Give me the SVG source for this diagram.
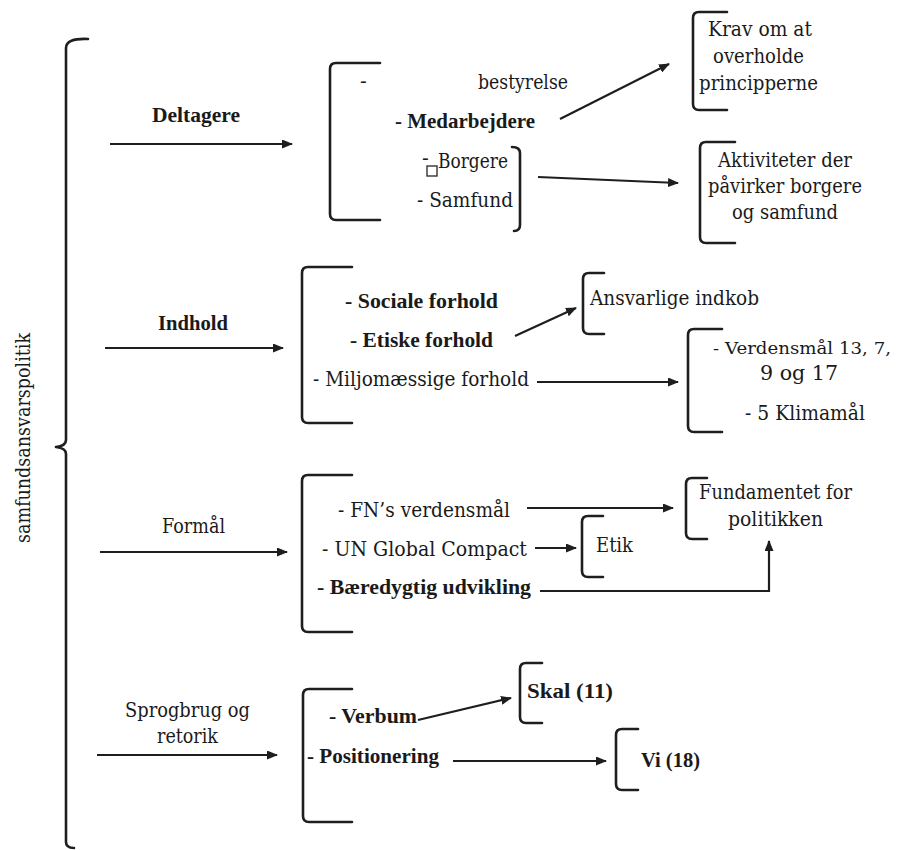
<svg xmlns="http://www.w3.org/2000/svg" width="898" height="850" viewBox="0 0 898 850">
<style>
text{font-family:"DejaVu Serif","Liberation Serif",serif;font-size:20px;fill:#1a1a1a}
.b{font-family:"Liberation Serif","DejaVu Serif",serif;font-size:21px;font-weight:700}
.br{fill:none;stroke:#1e1e1e;stroke-width:2.6;stroke-linecap:round;stroke-linejoin:round}
.ar{fill:none;stroke:#1e1e1e;stroke-width:2.2;marker-end:url(#ah)}
</style>
<defs>
<marker id="ah" markerUnits="userSpaceOnUse" markerWidth="11" markerHeight="9" refX="10" refY="4.5" orient="auto">
<path d="M0,0 L11,4.5 L0,9 z" fill="#1e1e1e"/>
</marker>
</defs>
<rect width="898" height="850" fill="#fff"/>

<g id="root">
<path class="br" d="M88 39 Q66 38 66 48 L66 440 Q66 446 56 447 Q66 448 66 454 L66 842 Q66 848 74 848"/>
<text transform="translate(30,543) rotate(-90)" textLength="210" lengthAdjust="spacingAndGlyphs">samfundsansvarspolitik</text>
</g>

<g id="connectors">
<path class="ar" d="M110 144 L292 144"/>
<path class="ar" d="M105 348 L283 348"/>
<path class="ar" d="M100 552 L287 552"/>
<path class="ar" d="M97 755 L277 755"/>
<path class="ar" d="M560 119 L669 64"/>
<path class="ar" d="M538 177 L678 183"/>
<path class="ar" d="M515 336 L576 308"/>
<path class="ar" d="M537 382 L678 382"/>
<path class="ar" d="M527 508 L673 508"/>
<path class="ar" d="M535 548 L576 548"/>
<path class="ar" d="M540 591 L769 591 L769 541"/>
<path class="ar" d="M418 720 L511 698"/>
<path class="ar" d="M453 761 L606 761"/>
</g>

<g id="lbl-deltagere"><text class="b" x="152" y="122" textLength="88" lengthAdjust="spacingAndGlyphs">Deltagere</text></g>
<g id="lbl-indhold"><text class="b" x="158" y="330" textLength="70" lengthAdjust="spacingAndGlyphs">Indhold</text></g>
<g id="lbl-formaal"><text x="162" y="533" textLength="63" lengthAdjust="spacingAndGlyphs">Formål</text></g>
<g id="lbl-sprogbrug">
<text x="125" y="717" textLength="125" lengthAdjust="spacingAndGlyphs">Sprogbrug og</text>
<text x="157" y="743" textLength="61" lengthAdjust="spacingAndGlyphs">retorik</text>
</g>

<g id="deltagere-list">
<path class="br" d="M380 63 L336 63 Q330 63 330 69 L330 214 Q330 220 336 220 L380 220"/>
<text x="360" y="88">-</text>
<text x="478" y="89" textLength="90" lengthAdjust="spacingAndGlyphs">bestyrelse</text>
<text class="b" x="395" y="128" textLength="140" lengthAdjust="spacingAndGlyphs">- Medarbejdere</text>
<text x="422" y="165">-</text>
<rect x="427" y="166" width="10" height="10" fill="none" stroke="#333" stroke-width="1.4"/>
<text x="438" y="168" textLength="70" lengthAdjust="spacingAndGlyphs">Borgere</text>
<text x="417" y="207" textLength="96" lengthAdjust="spacingAndGlyphs">- Samfund</text>
<path class="br" d="M512 147 Q520 147 520 153 L520 225 Q520 231 514 231"/>
</g>

<g id="krav">
<path class="br" d="M727 12 L699 12 Q693 12 693 18 L693 104 Q693 110 699 110 L727 110"/>
<text x="708" y="36" textLength="104" lengthAdjust="spacingAndGlyphs">Krav om at</text>
<text x="713" y="63" textLength="91" lengthAdjust="spacingAndGlyphs">overholde</text>
<text x="699" y="90" textLength="119" lengthAdjust="spacingAndGlyphs">principperne</text>
</g>

<g id="aktiviteter">
<path class="br" d="M735 142 L706 142 Q700 142 700 148 L700 237 Q700 243 706 243 L735 243"/>
<text x="718" y="167" textLength="134" lengthAdjust="spacingAndGlyphs">Aktiviteter der</text>
<text x="708" y="193" textLength="154" lengthAdjust="spacingAndGlyphs">påvirker borgere</text>
<text x="732" y="219" textLength="106" lengthAdjust="spacingAndGlyphs">og samfund</text>
</g>

<g id="indhold-list">
<path class="br" d="M352 267 L308 267 Q302 267 302 273 L302 417 Q302 423 308 423 L352 423"/>
<text class="b" x="345" y="308" textLength="153" lengthAdjust="spacingAndGlyphs">- Sociale forhold</text>
<text class="b" x="350" y="347" textLength="143" lengthAdjust="spacingAndGlyphs">- Etiske forhold</text>
<text x="313" y="386" textLength="216" lengthAdjust="spacingAndGlyphs">- Miljomæssige forhold</text>
</g>

<g id="ansvarlige">
<path class="br" d="M604 273 L589 273 Q583 273 583 279 L583 328 Q583 334 589 334 L604 334"/>
<text x="590" y="305" textLength="169" lengthAdjust="spacingAndGlyphs">Ansvarlige indkob</text>
</g>

<g id="verdensmaal">
<path class="br" d="M722 329 L694 329 Q688 329 688 335 L688 426 Q688 432 694 432 L722 432"/>
<text x="713" y="354" style="font-size:17.5px" textLength="178" lengthAdjust="spacingAndGlyphs">- Verdensmål 13, 7,</text>
<text x="760" y="380" textLength="78" lengthAdjust="spacingAndGlyphs">9 og 17</text>
<text x="745" y="420" textLength="120" lengthAdjust="spacingAndGlyphs">- 5 Klimamål</text>
</g>

<g id="formaal-list">
<path class="br" d="M352 475 L308 475 Q302 475 302 481 L302 626 Q302 632 308 632 L352 632"/>
<text x="338" y="517" textLength="172" lengthAdjust="spacingAndGlyphs">- FN’s verdensmål</text>
<text x="322" y="556" textLength="205" lengthAdjust="spacingAndGlyphs">- UN Global Compact</text>
<text class="b" x="317" y="594" textLength="214" lengthAdjust="spacingAndGlyphs">- Bæredygtig udvikling</text>
</g>

<g id="etik">
<path class="br" d="M603 516 L588 516 Q582 516 582 522 L582 571 Q582 577 588 577 L603 577"/>
<text x="596" y="552" textLength="37" lengthAdjust="spacingAndGlyphs">Etik</text>
</g>

<g id="fundamentet">
<path class="br" d="M707 478 L692 478 Q686 478 686 484 L686 533 Q686 539 692 539 L707 539"/>
<text x="699" y="499" textLength="153" lengthAdjust="spacingAndGlyphs">Fundamentet for</text>
<text x="728" y="526" textLength="95" lengthAdjust="spacingAndGlyphs">politikken</text>
</g>

<g id="sprogbrug-list">
<path class="br" d="M352 689 L309 689 Q303 689 303 695 L303 816 Q303 822 309 822 L352 822"/>
<text class="b" x="329" y="723" textLength="88" lengthAdjust="spacingAndGlyphs">- Verbum</text>
<text class="b" x="307" y="763" textLength="132" lengthAdjust="spacingAndGlyphs">- Positionering</text>
</g>

<g id="skal">
<path class="br" d="M542 663 L526 663 Q520 663 520 669 L520 717 Q520 723 526 723 L542 723"/>
<text class="b" x="527" y="698" textLength="86" lengthAdjust="spacingAndGlyphs">Skal (11)</text>
</g>

<g id="vi">
<path class="br" d="M638 729 L622 729 Q616 729 616 735 L616 784 Q616 790 622 790 L638 790"/>
<text class="b" x="641" y="767" textLength="59" lengthAdjust="spacingAndGlyphs">Vi (18)</text>
</g>
</svg>
